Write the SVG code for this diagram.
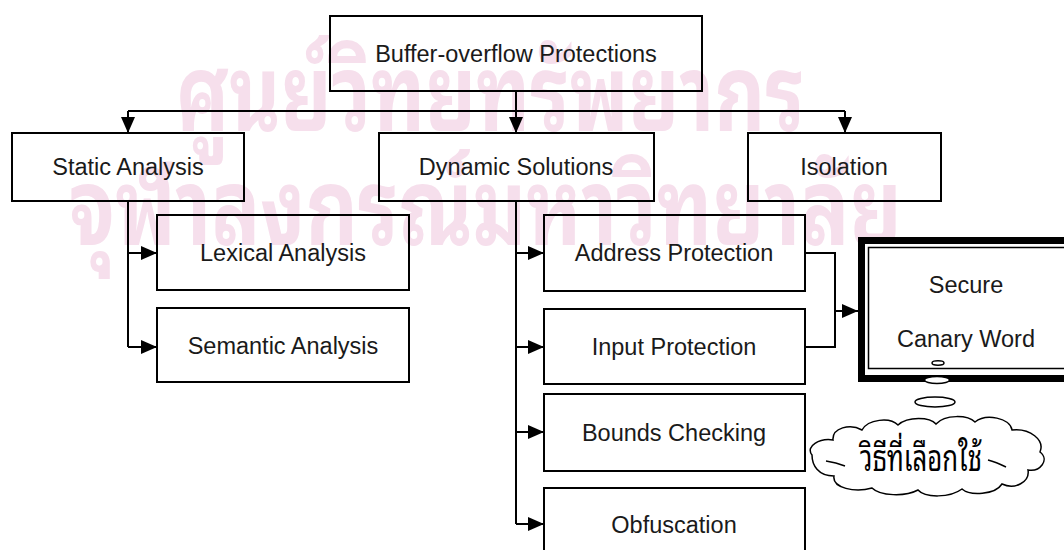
<svg xmlns="http://www.w3.org/2000/svg" width="1064" height="550" viewBox="0 0 1064 550">
  <style>
    .box { fill: none; stroke: #000000; stroke-width: 2; }
    .lbl { font-family: "Liberation Sans", Arial, Helvetica, sans-serif; font-size: 23.5px; fill: #1a1a1a; text-anchor: middle; }
    .wire { fill: none; stroke: #000000; stroke-width: 2; }
    .wm { font-family: "Noto Sans Thai Looped", "Noto Sans Thai", "Loma", "Garuda", "Norasi", sans-serif; font-size: 106px; font-weight: bold; fill: #f6dfec; }
    .thai { font-family: "Noto Sans Thai Looped", "Noto Serif Thai", "Norasi", "Kinnari", "Noto Sans Thai", "Loma", serif; font-size: 36px; fill: #000000; }
  </style>
  <defs>
    <marker id="arrow" markerUnits="userSpaceOnUse" markerWidth="16" markerHeight="14" refX="16" refY="7" orient="auto">
      <path d="M0,0 L16,7 L0,14 Z" fill="#000000"/>
    </marker>
  </defs>

  <rect width="1064" height="550" fill="#ffffff"/>

  <!-- background library stamp -->
  <g id="stamp">
    <text class="wm" x="176" y="131" textLength="629" lengthAdjust="spacingAndGlyphs">ศูนย์วิทยทรัพยากร</text>
    <text class="wm" x="69" y="245" textLength="833" lengthAdjust="spacingAndGlyphs">จุฬาลงกรณ์มหาวิทยาลัย</text>
  </g>

  <!-- connectors -->
  <g id="connectors">
    <path class="wire" d="M516,91 V133" marker-end="url(#arrow)"/>
    <path class="wire" d="M128,111 H845"/>
    <path class="wire" d="M128,111 V133" marker-end="url(#arrow)"/>
    <path class="wire" d="M845,111 V133" marker-end="url(#arrow)"/>

    <path class="wire" d="M128,201 V347"/>
    <path class="wire" d="M128,253 H157" marker-end="url(#arrow)"/>
    <path class="wire" d="M128,347 H157" marker-end="url(#arrow)"/>

    <path class="wire" d="M516,201 V524"/>
    <path class="wire" d="M516,253 H544" marker-end="url(#arrow)"/>
    <path class="wire" d="M516,347 H544" marker-end="url(#arrow)"/>
    <path class="wire" d="M516,432 H544" marker-end="url(#arrow)"/>
    <path class="wire" d="M516,524 H544" marker-end="url(#arrow)"/>

    <path class="wire" d="M805,253 H835 V347 H805"/>
    <path class="wire" d="M835,311 H858" marker-end="url(#arrow)"/>
  </g>

  <g id="root">
    <rect class="box" x="330" y="16" width="372" height="75"/>
    <text class="lbl" x="516" y="62">Buffer-overflow Protections</text>
  </g>
  <g id="static">
    <rect class="box" x="12" y="133" width="232" height="68"/>
    <text class="lbl" x="128" y="175">Static Analysis</text>
  </g>
  <g id="dynamic">
    <rect class="box" x="379" y="133" width="275" height="68"/>
    <text class="lbl" x="516" y="175">Dynamic Solutions</text>
  </g>
  <g id="isolation">
    <rect class="box" x="748" y="133" width="193" height="68"/>
    <text class="lbl" x="844" y="175">Isolation</text>
  </g>
  <g id="lexical">
    <rect class="box" x="157" y="215" width="252" height="75"/>
    <text class="lbl" x="283" y="261">Lexical Analysis</text>
  </g>
  <g id="semantic">
    <rect class="box" x="157" y="308" width="252" height="74"/>
    <text class="lbl" x="283" y="354">Semantic Analysis</text>
  </g>
  <g id="address">
    <rect class="box" x="544" y="215" width="261" height="76"/>
    <text class="lbl" x="674" y="261">Address Protection</text>
  </g>
  <g id="input">
    <rect class="box" x="544" y="309" width="261" height="75"/>
    <text class="lbl" x="674" y="355">Input Protection</text>
  </g>
  <g id="bounds">
    <rect class="box" x="544" y="394" width="261" height="77"/>
    <text class="lbl" x="674" y="441">Bounds Checking</text>
  </g>
  <g id="obfuscation">
    <rect class="box" x="544" y="488" width="261" height="80"/>
    <text class="lbl" x="674" y="533">Obfuscation</text>
  </g>

  <g id="canary">
    <rect x="861.5" y="240.5" width="220" height="138" fill="#ffffff" stroke="#000000" stroke-width="7"/>
    <rect x="868.5" y="247.5" width="206" height="121" fill="none" stroke="#000000" stroke-width="1.5"/>
    <text class="lbl" x="966" y="293">Secure</text>
    <text class="lbl" x="966" y="347">Canary Word</text>
  </g>

  <g id="thought">
    <ellipse cx="938" cy="363" rx="6" ry="2.2" fill="#ffffff" stroke="#000000" stroke-width="1.5"/>
    <ellipse cx="937" cy="380" rx="12.5" ry="3.5" fill="#ffffff" stroke="#000000" stroke-width="1.5"/>
    <ellipse cx="935" cy="402" rx="20" ry="5" fill="#ffffff" stroke="#000000" stroke-width="1.5"/>
    <path d="M812,455 C805,446 820,438 833,440 C832,428 850,423 862,430 C868,419 890,417 898,425 C908,416 930,417 936,424 C945,414 968,415 975,422 C986,413 1010,418 1012,430 C1030,428 1045,440 1040,452 C1050,460 1040,472 1028,470 C1030,482 1015,490 1002,484 C995,495 970,496 962,489 C950,498 925,498 918,490 C905,497 880,496 872,488 C855,493 832,488 834,476 C818,476 812,465 812,455 Z" fill="#ffffff" stroke="#000000" stroke-width="1.5"/>
    <path d="M826,461 C833,462 840,464 845,466" fill="none" stroke="#000000" stroke-width="1.5"/>
    <path d="M988,460 C996,462 1002,465 1006,467" fill="none" stroke="#000000" stroke-width="1.5"/>
    <text class="thai" x="860" y="471" textLength="122" lengthAdjust="spacingAndGlyphs">วิธีที่เลือกใช้</text>
  </g>
</svg>
